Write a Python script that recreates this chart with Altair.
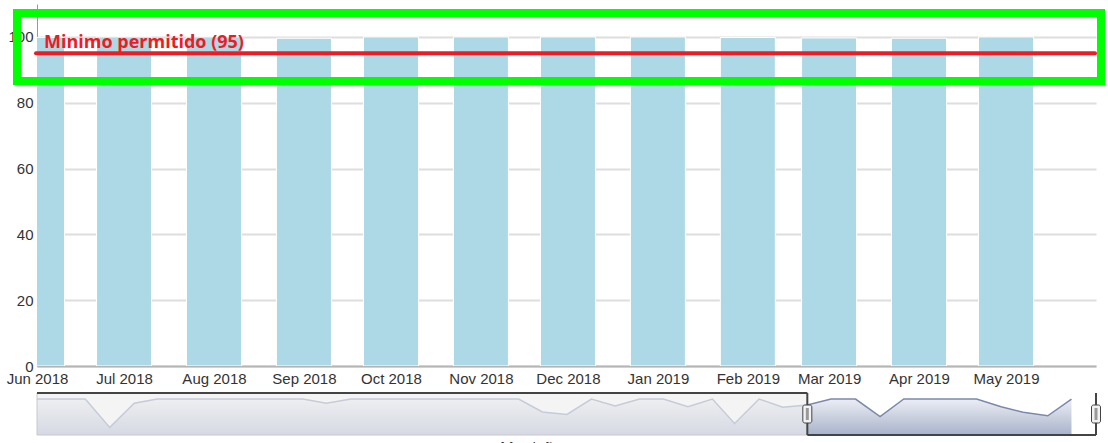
import altair as alt
import pandas as pd

# ---------------- data ----------------
bar_months = ["2018-06-01", "2018-07-01", "2018-08-01", "2018-09-01", "2018-10-01", "2018-11-01",
              "2018-12-01", "2019-01-01", "2019-02-01", "2019-03-01", "2019-04-01", "2019-05-01"]
bar_values = [99.86, 100, 100, 99.59, 100, 100, 100, 100, 99.82, 99.69, 99.61, 100]
y_ticks = [0, 20, 40, 60, 80, 100]
min_allowed = 95
min_label = "Minimo permitido (95)"
x_title = "Mes/año"

nav_months = pd.date_range("2015-10-01", "2019-05-01", freq="MS").strftime("%Y-%m-%d").tolist()
nav_values = [100, 100, 100, 99.34, 99.90, 100, 100, 100, 100, 100, 100, 100,
              99.90, 100, 100, 100, 100, 100, 100, 100, 100, 99.70, 99.64, 100,
              99.84, 100, 100, 99.82, 100, 99.43, 100, 99.81, 99.86, 100, 100, 99.59,
              100, 100, 100, 100, 99.82, 99.69, 99.61, 100]
nav_start = "2015-10-01"
sel_start = "2018-06-01"
nav_end = "2019-06-01"
nav_y_min, nav_y_max = 99.163, 100.14

bar_df = pd.DataFrame({"month": bar_months, "value": bar_values})
nav_df = pd.DataFrame({"date": nav_months, "value": nav_values})
range_df = pd.DataFrame({"nav_start": [nav_start], "sel_start": [sel_start], "nav_end": [nav_end]})
handle_df = pd.DataFrame({"date": [sel_start, nav_end]})
one = pd.DataFrame({"k": [0]})


def dt(s):
    y, m, d = (int(p) for p in s.split("-"))
    return alt.DateTime(year=y, month=m, date=d, utc=True)


FONT = "Liberation Sans"
W, H = 1059, 362

# ---------------- main chart ----------------
main_x = alt.Scale(type="utc", domain=[dt(sel_start), dt(nav_end)], nice=False, padding=0)
main_y = alt.Scale(domain=[0, 110], nice=False, zero=True)

bars = alt.Chart(bar_df).mark_bar(
    color="#add8e6", stroke="#ffffff", strokeWidth=1, size=55, clip=True
).encode(
    x=alt.X("month:T", scale=main_x,
            axis=alt.Axis(values=[dt(m) for m in bar_months],
                          labelExpr="utcFormat(datum.value, '%b %Y')",
                          title=None, grid=False, ticks=False,
                          domainColor="#b5b5b5", domainWidth=2,
                          labelFont=FONT, labelFontSize=15, labelColor="#333333",
                          labelPadding=5, labelFlush=False, labelOverlap=False)),
    y=alt.Y("value:Q", scale=main_y,
            axis=alt.Axis(values=y_ticks, title=None, ticks=False, grid=True,
                          gridColor="#dedede", gridWidth=2,
                          domainColor="#999999", domainWidth=1,
                          labelFont=FONT, labelFontSize=15, labelColor="#333333",
                          labelPadding=4)),
)

rule = alt.Chart(one).mark_rule(color="#ed1c24", strokeWidth=4, strokeCap="round").encode(
    y=alt.YDatum(min_allowed, type="quantitative"),
    x=alt.value(-1), x2=alt.value(W - 1),
)

label = alt.Chart(one).mark_text(
    text=min_label, align="left", baseline="alphabetic", font="Open Sans",
    fontWeight="bold", fontSize=18, color="#ed1c24"
).encode(x=alt.value(7), y=alt.value(43.5))

title_text = alt.Chart(one).mark_text(
    text=x_title, align="center", baseline="alphabetic", font=FONT,
    fontSize=16, color="#333333"
).encode(x=alt.value(494), y=alt.value(450))

green = alt.Chart(one).mark_rect(
    fill="transparent", stroke="#00ff00", strokeWidth=8
).encode(x=alt.value(-20), x2=alt.value(1064), y=alt.value(9), y2=alt.value(77))

main = alt.layer(bars, rule, label, title_text, green)

# ---------------- navigator ----------------
nav_x = alt.Scale(type="utc", domain=[dt(nav_start), dt(nav_end)], nice=False, padding=0)
nav_y = alt.Scale(domain=[nav_y_min, nav_y_max], range=[431, 389], nice=False, zero=False)
NX = dict(scale=nav_x, axis=None)

grad = alt.Gradient(gradient="linear", x1=0, x2=0, y1=0, y2=1,
                    stops=[alt.GradientStop(color="#eceef4", offset=0),
                           alt.GradientStop(color="#a8b2ca", offset=1)])

area = alt.Chart(nav_df).mark_area(fill=grad).encode(
    x=alt.X("date:T", **NX),
    y=alt.Y("value:Q", scale=nav_y, axis=None),
    y2=alt.Y2Datum(nav_y_min),
)
line = alt.Chart(nav_df).mark_line(color="#7a89ab", strokeWidth=1.5).encode(
    x=alt.X("date:T", **NX),
    y=alt.Y("value:Q", scale=nav_y, axis=None),
)
mask = alt.Chart(range_df).mark_rect(
    fill="#eeeef0", fillOpacity=0.65, stroke="#c8c8c8", strokeWidth=1
).encode(x=alt.X("nav_start:T", **NX), x2="sel_start:T", y=alt.value(389), y2=alt.value(431))

OUT = dict(color="#444444", strokeWidth=2)
o_top = alt.Chart(range_df).mark_rule(**OUT).encode(
    x=alt.X("nav_start:T", **NX), x2="sel_start:T", y=alt.value(389))
o_left = alt.Chart(range_df).mark_rule(**OUT).encode(
    x=alt.X("sel_start:T", **NX), y=alt.value(389), y2=alt.value(431))
o_bottom = alt.Chart(range_df).mark_rule(**OUT).encode(
    x=alt.X("sel_start:T", **NX), x2="nav_end:T", y=alt.value(431))
o_right = alt.Chart(range_df).mark_rule(**OUT).encode(
    x=alt.X("nav_end:T", **NX), y=alt.value(389), y2=alt.value(431))

handle = alt.Chart(handle_df).mark_rect(
    fill="#f2f2f2", stroke="#444444", strokeWidth=1, cornerRadius=2,
    xOffset=-4.5, x2Offset=4.5
).encode(x=alt.X("date:T", **NX), x2="date:T", y=alt.value(401), y2=alt.value(419))
grip = alt.Chart(handle_df).mark_rect(
    fill="#999999", xOffset=-1.5, x2Offset=1.5
).encode(x=alt.X("date:T", **NX), x2="date:T", y=alt.value(404), y2=alt.value(416))

nav = alt.layer(area, line, mask, o_top, o_left, o_bottom, o_right, handle, grip)

chart = alt.layer(main, nav).resolve_scale(
    x="independent", y="independent"
).properties(
    width=W, height=H,
    padding={"left": 37, "top": 4, "right": 12, "bottom": 77},
    autosize=alt.AutoSizeParams(type="none"),
    background="#ffffff",
).configure_view(strokeWidth=0)

chart.save("out.html", embed_options={"renderer": "svg", "actions": False})
